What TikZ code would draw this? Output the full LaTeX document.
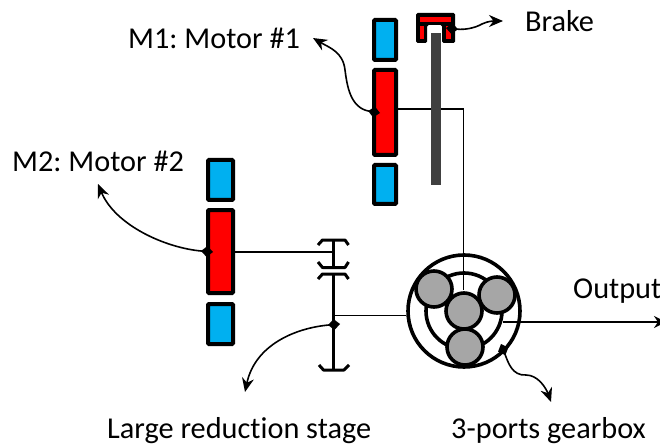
\documentclass[tikz,border=0pt]{standalone}
\usepackage{fontspec}
\setmainfont[Ligatures=CommonOff]{Carlito}
\usetikzlibrary{arrows.meta}
\definecolor{mblue}{HTML}{00B0F0}
\tikzset{
  blk/.style={draw=black,line width=4pt,rounded corners=1pt},
  statorbox/.style={blk,fill=mblue},
  rotorbox/.style={blk,fill=red},
  planet/.style={circle,draw=black,line width=3.6pt,fill=black!35,minimum size=36pt,inner sep=0pt},
  shaft/.style={draw=black,line width=1.6pt},
  gearline/.style={draw=black,line width=3pt,line join=round},
  lead/.style={draw=black,line width=1.6pt,{Diamond[length=12pt,width=11pt]}-{Stealth[length=14pt,width=12pt]}},
  lbl/.style={font=\fontsize{30.3}{32}\selectfont\frenchspacing,text=black,inner sep=0pt}
}
\begin{document}
\begin{tikzpicture}[x=1pt,y=-1pt]
\useasboundingbox (0,0) rectangle (660,446);
\clip (0,0) rectangle (660,446);
% coordinates
\coordinate (m1dot) at (380,113);
\coordinate (m1tip) at (313,38);
\coordinate (m2dot) at (213,252);
\coordinate (m2tip) at (98,184);
\coordinate (brdot) at (446,28);
\coordinate (brtip) at (503,21);
\coordinate (grdot) at (340,324);
\coordinate (grtip) at (245,392);
\coordinate (gbdot) at (501,344);
\coordinate (gbtip) at (551,402);
\coordinate (outstart) at (503,322);
\coordinate (outtip) at (666,322);
% shaft lines behind
\draw[shaft] (398,109) -- (463.5,109) -- (463.5,290);
% motor 1
\path[statorbox] (374,20) rectangle (396,60);
\path[rotorbox] (374,70) rectangle (396,155);
\path[statorbox] (374,165) rectangle (396,204);
% motor 2
\path[statorbox] (208,160) rectangle (233,200);
\path[rotorbox] (208,210) rectangle (233,293);
\path[statorbox] (208,304) rectangle (233,344);
% brake disc
\fill[black!75] (431,33) rectangle (441,185);
% brake
\fill[black,rounded corners=1.5pt] (416,13) -- (455,13) -- (455,43) -- (442,43) -- (442,25) -- (427,25) -- (427,43) -- (416,43) -- cycle;
\fill[red] (420,17) rectangle (451,22);
\fill[red] (420,26) rectangle (424,39);
\fill[red] (446,26) rectangle (451,39);
% gear shafts
\draw[shaft] (235,252) -- (332,252);
\draw[shaft] (333,315.5) -- (406,315.5);
\draw[gearline] (318,245) -- (322.5,240) -- (345,240) -- (348.5,245);
\draw[gearline] (318,262) -- (322.5,267.5) -- (345,267.5) -- (348.5,262);
\draw[gearline] (333,240) -- (333,267.5);
\draw[gearline] (318,279) -- (322.5,274) -- (345,274) -- (348.5,279);
\draw[gearline] (333,274) -- (333,370);
\draw[gearline] (319,365) -- (323.5,370) -- (344,370) -- (349,365);
% gearbox
\draw[draw=black,line width=3.6pt] (464,311) circle (56);
\draw[draw=black,line width=3.6pt] (464,311) circle (38);
\draw[shaft] (463.5,250) -- (463.5,290);
\node[planet] (p1) at (434,289) {};
\node[planet] (p2) at (497,295) {};
\node[planet] (p3) at (464,311) {};
\node[planet] (p4) at (465,347) {};
% output
\draw[draw=black,line width=2pt,-{Stealth[length=12pt,width=12pt]}] (outstart) -- (outtip);
% leaders
\draw[lead] (m1dot) .. controls (350,108) and (347,85) .. (345,70) .. controls (343,52) and (330,48) .. (m1tip);
\draw[lead] (m2dot) .. controls (165,248) and (115,225) .. (m2tip);
\draw[lead] (brdot) .. controls (465,30) and (475,28) .. (482,24) .. controls (488,21) and (494,21) .. (brtip);
\draw[lead] (grdot) .. controls (295,328) and (255,345) .. (grtip);
\draw[lead] (gbdot) .. controls (508,362) and (512,376) .. (526,375) .. controls (538,375) and (546,388) .. (gbtip);
% labels
\node[lbl,anchor=base west] (m1lbl) at (128,49) {M1: Motor \#1};
\node[lbl,anchor=base west] (m2lbl) at (12,172) {M2: Motor \#2};
\node[lbl,anchor=base west] (brlbl) at (525,32) {Brake};
\node[lbl,anchor=base west] (outlbl) at (573,298) {Output};
\node[lbl,anchor=base west] (lrlbl) at (107,438) {Large reduction stage};
\node[lbl,anchor=base west] (gblbl) at (451,438) {3-ports gearbox};
\end{tikzpicture}
\end{document}
